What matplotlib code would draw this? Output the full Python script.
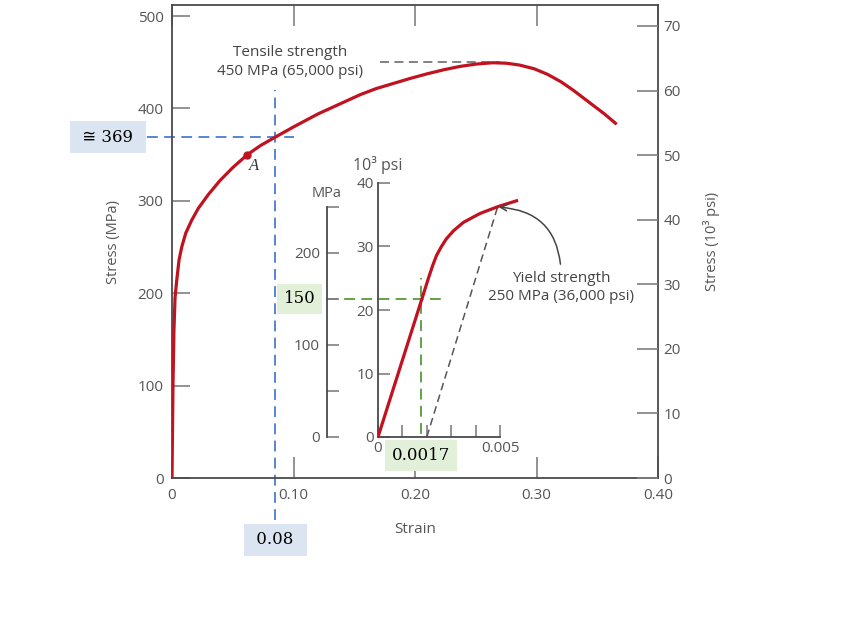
import matplotlib.pyplot as plt
from matplotlib.ticker import FixedLocator

plt.rcParams['font.family'] = ['Open Sans', 'DejaVu Sans']

# main stress-strain curve (strain, MPa)
strain = [0, 0.0008, 0.0016, 0.0025, 0.0039, 0.0058, 0.008, 0.0113, 0.0162, 0.0217, 0.030,
          0.0395, 0.05, 0.062, 0.073, 0.085, 0.1, 0.12, 0.14, 0.155, 0.168, 0.182, 0.196,
          0.21, 0.224, 0.237, 0.25, 0.264, 0.275, 0.286, 0.298, 0.309, 0.32, 0.33, 0.338,
          0.347, 0.356, 0.365]
stress = [0, 100, 160, 195, 214, 236, 250, 265, 279, 292, 307,
          322, 336, 350, 360, 369, 380, 394, 406, 415, 421.5, 427, 432.5,
          437.5, 442, 445.5, 448, 449.5, 449, 447, 443, 437, 429, 420, 412,
          403, 394, 384]

# inset: early part of the curve (strain, 10^3 psi)
in_strain = [0, 0.0021, 0.00225, 0.0024, 0.0026, 0.0028, 0.0031, 0.0035, 0.00418, 0.00493, 0.00568]
in_ksi = [0, 25.4, 27.1, 28.6, 30.0, 31.2, 32.5, 33.8, 35.2, 36.3, 37.2]

offset_strain = [0.002, 0.0049]
offset_ksi = [0, 36.2]

point_a = (0.062, 350)
read_strain, read_stress = 0.085, 369
tensile_mpa = 450
elastic_strain, elastic_mpa = 0.00175, 150

RED = '#c1121f'
BLUE = '#4a7bd0'
GREEN = '#559a3a'
SPINE = '#4a4a4a'
TICK = '#808080'
TXT = '#555555'
SERIF = ['DejaVu Serif', 'DejaVu Sans']

W, H = 844, 626
fig = plt.figure(figsize=(W / 100, H / 100), dpi=100)
ax = fig.add_axes([172 / W, 1 - 478 / H, 486 / W, 473 / H])
ax.plot(strain, stress, color=RED, lw=2.3, zorder=3, solid_joinstyle='round')
ax.plot(*point_a, 'o', color=RED, ms=5, zorder=4)
ax.text(point_a[0] + 0.0055, point_a[1] - 12, 'A', style='italic', fontsize=12,
        family=['Liberation Serif'], color='#333333', ha='center', va='center')

ax.set_xlim(0, 0.4)
ax.set_ylim(0, 512)
ax.set_xticks([0, 0.1, 0.2, 0.3, 0.4])
ax.set_xticklabels(['0', '0.10', '0.20', '0.30', '0.40'])
ax.set_yticks([0, 100, 200, 300, 400, 500])
ax.tick_params(axis='x', direction='in', length=15, width=1.2, color=TICK, top=True,
               labelsize=11, labelcolor=TXT, pad=7)
ax.tick_params(axis='y', direction='in', length=13, width=1.2, color=TICK,
               labelsize=11, labelcolor=TXT, pad=6)
for s in ax.spines.values():
    s.set_color(SPINE)
    s.set_linewidth(1.3)
ax.set_xlabel('Strain', fontsize=11, color=TXT, labelpad=14)
ax.set_ylabel('Stress (MPa)', fontsize=10.5, color=TXT, labelpad=12)

ax2 = ax.twinx()
ax2.set_ylim(0, 73.25)
ax2.set_yticks(range(0, 80, 10))
ax2.tick_params(axis='y', direction='in', length=15, width=1.2, color=TICK,
                labelsize=11, labelcolor=TXT, pad=4)
for s in ax2.spines.values():
    s.set_visible(False)
ax2.set_ylabel('Stress (10³ psi)', fontsize=10.5, color=TXT, labelpad=16)

# tensile strength
ax.plot([0.171, 0.27], [tensile_mpa, tensile_mpa], ls=(0, (5, 3)), color='#777777', lw=1.3, zorder=2)
ax.text(0.097, tensile_mpa, 'Tensile strength\n450 MPa (65,000 psi)', ha='center', va='center',
        fontsize=11, color='#444444', linespacing=1.4)

# reading at 0.08
ax.plot([-0.0206, 0.1], [read_stress, read_stress], ls=(0, (6, 3.5)), color=BLUE, lw=1.3,
        clip_on=False, zorder=2)
ax.plot([read_strain, read_strain], [-45, 420], ls=(0, (6, 3.5)), color=BLUE, lw=1.3,
        clip_on=False, zorder=2)
box_b = dict(boxstyle='square,pad=0.45', fc='#dbe5f1', ec='none')
ax.text(-0.0527, read_stress, ' ≅ 369 ', ha='center', va='center', fontsize=12,
        family=SERIF, bbox=box_b, clip_on=False)
ax.text(read_strain, -67, ' 0.08 ', ha='center', va='center', fontsize=12,
        family=SERIF, bbox=box_b, clip_on=False)

# inset
ax_in = fig.add_axes([378 / W, 1 - 437 / H, 158.6 / W, 285.75 / H])
ax_in.patch.set_visible(False)
ax_in.set_xlim(0, 0.0065)
ax_in.set_ylim(0, 45)
ax_in.plot(in_strain, in_ksi, color=RED, lw=2.3, zorder=3, solid_joinstyle='round')
ax_in.plot(offset_strain, offset_ksi, ls=(0, (5, 3)), color='#555555', lw=1.1, zorder=2)
for k in ['top', 'right']:
    ax_in.spines[k].set_visible(False)
ax_in.spines['left'].set_bounds(0, 40)
ax_in.spines['bottom'].set_bounds(0, 0.005)
for k in ['left', 'bottom']:
    ax_in.spines[k].set_color(SPINE)
    ax_in.spines[k].set_linewidth(1.3)
ax_in.set_yticks([0, 10, 20, 30, 40])
ax_in.set_xticks([0, 0.005])
ax_in.set_xticklabels(['0', '0.005'])
ax_in.xaxis.set_minor_locator(FixedLocator([0.001, 0.002, 0.003, 0.004]))
ax_in.tick_params(axis='both', which='both', direction='in', length=8.5, width=1.2, color=TICK,
                  labelsize=11, labelcolor=TXT, pad=3)
ax_in.text(0, 42.8, '10³ psi', ha='center', va='center', fontsize=11.5, color=TXT)

ksi_per_mpa = 1 / 6.895
ax_m = ax_in.twinx()
ax_m.set_ylim(0, 45 / ksi_per_mpa)
for k in ['top', 'right', 'bottom']:
    ax_m.spines[k].set_visible(False)
ax_m.spines['left'].set_visible(True)
ax_m.spines['left'].set_position(('outward', 51 * 0.72))
ax_m.spines['left'].set_bounds(0, 250)
ax_m.spines['left'].set_color(SPINE)
ax_m.spines['left'].set_linewidth(1.3)
ax_m.yaxis.tick_left()
ax_m.set_yticks([0, 100, 200])
ax_m.yaxis.set_minor_locator(FixedLocator([50, 150, 250]))
ax_m.tick_params(axis='y', which='both', direction='in', length=8.5, width=1.2, color=TICK,
                 labelsize=11, labelcolor=TXT, pad=5, right=False)
ax_in.text(-0.00209, 38.4, 'MPa', ha='center', va='center', fontsize=10.5, color=TXT)

# 0.0017 / 150 MPa reading
g_ksi = elastic_mpa * ksi_per_mpa
ax_in.plot([-0.00209, 0.00262], [g_ksi, g_ksi], ls=(0, (6, 3.5)), color=GREEN, lw=1.3,
           clip_on=False, zorder=2)
ax_in.plot([elastic_strain, elastic_strain], [-2.2, 25], ls=(0, (6, 3.5)), color=GREEN, lw=1.3,
           clip_on=False, zorder=2)
box_g = dict(boxstyle='square,pad=0.4', fc='#e2efd9', ec='none')
ax_in.text(-0.0032, g_ksi, '150', ha='center', va='center', fontsize=12,
           family=SERIF, bbox=box_g, clip_on=False)
ax_in.text(elastic_strain, -2.9, '0.0017', ha='center', va='center', fontsize=12,
           family=SERIF, bbox=box_g, clip_on=False, zorder=5)

# yield strength
ax_in.annotate('Yield strength\n250 MPa (36,000 psi)', xy=(offset_strain[1], offset_ksi[1]),
               xytext=(0.0075, 23.5), ha='center', va='center', fontsize=11, color='#444444',
               linespacing=1.3, annotation_clip=False,
               arrowprops=dict(arrowstyle='->', color='#444444', lw=1.1, relpos=(0.5, 1.0),
                               connectionstyle='arc3,rad=0.45', shrinkA=3, shrinkB=1))

fig.savefig('out.png', dpi=100)
